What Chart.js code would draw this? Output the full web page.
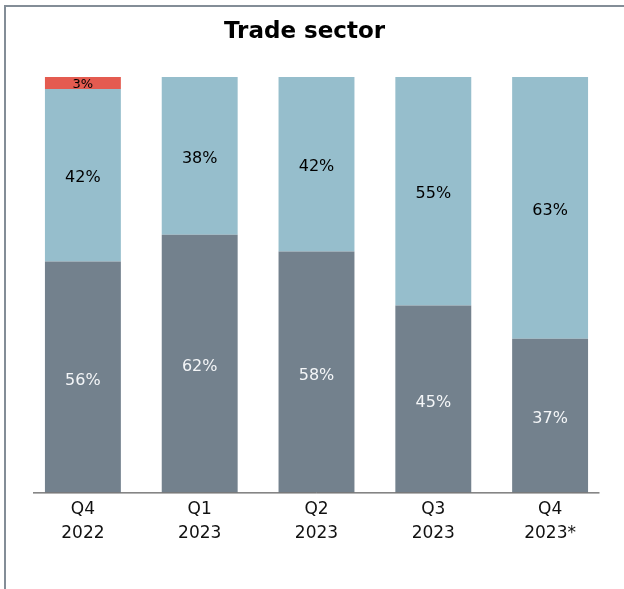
<!DOCTYPE html>
<html>
<head>
<meta charset="utf-8">
<script src="https://cdn.jsdelivr.net/npm/chart.js@4"></script>
<style>
  body { margin: 0; background: #fff; }
  #frame { position: absolute; left: 4px; top: 5px; width: 700px; height: 700px;
           border-left: 2px solid #838d97; border-top: 2px solid #838d97; }
  #wrap { position: absolute; left: 0; top: 0; width: 624px; height: 589px; }
</style>
</head>
<body>
<div id="frame"></div>
<div id="wrap"><canvas id="chart"></canvas></div>
<script>
// category labels (two lines each)
const quarters = [['Q4', '2022'], ['Q1', '2023'], ['Q2', '2023'], ['Q3', '2023'], ['Q4', '2023*']];
// shares, %
const greyShare = [55.6, 62, 58, 45, 37];
const blueShare = [41.5, 38, 42, 55, 63];
const redShare = [2.9, 0, 0, 0, 0];
const chartTitle = 'Trade sector';

// title, % labels in the middle of each segment, and the baseline
const segmentLabels = {
  id: 'segmentLabels',
  afterDatasetsDraw(chart) {
    const ctx = chart.ctx;
    ctx.save();
    ctx.textAlign = 'center';
    ctx.textBaseline = 'middle';
    ctx.fillStyle = '#000';
    ctx.font = 'bold 23px "DejaVu Sans"';
    ctx.fillText(chartTitle, 304.5, 32);
    chart.data.datasets.forEach((ds, i) => {
      const meta = chart.getDatasetMeta(i);
      meta.data.forEach((bar, j) => {
        const v = ds.data[j];
        if (!v) return;
        ctx.fillStyle = ds.labelColor;
        ctx.font = ds.labelFont;
        ctx.fillText(Math.round(v) + '%', bar.x, (bar.y + bar.base) / 2 + ds.labelShift);
      });
    });
    const y = chart.scales.y.getPixelForValue(0);
    ctx.strokeStyle = '#3a3a3a';
    ctx.lineWidth = 1;
    ctx.beginPath();
    ctx.moveTo(chart.chartArea.left + 8.5, y + 0.5);
    ctx.lineTo(chart.chartArea.right - 9, y + 0.5);
    ctx.stroke();
    ctx.restore();
  }
};

new Chart(document.getElementById('chart'), {
  type: 'bar',
  data: {
    labels: quarters,
    datasets: [
      { data: greyShare, backgroundColor: '#73818d', labelColor: '#f4f6f8', labelFont: '16px "DejaVu Sans"', labelShift: 3.5 },
      { data: blueShare, backgroundColor: '#96becc', labelColor: '#000', labelFont: '16px "DejaVu Sans"', labelShift: 3 },
      { data: redShare, backgroundColor: '#e45b50', labelColor: '#000', labelFont: '13px "DejaVu Sans"', labelShift: 1.5 }
    ]
  },
  options: {
    responsive: true,
    maintainAspectRatio: false,
    animation: false,
    layout: { padding: { left: 24.5, right: 15.5, top: 77, bottom: 39 } },
    datasets: { bar: { barPercentage: 0.65, categoryPercentage: 1, borderWidth: 0 } },
    plugins: {
      legend: { display: false },
      tooltip: { enabled: false },
      title: { display: false }
    },
    scales: {
      x: {
        stacked: true,
        grid: { display: false, drawTicks: false },
        border: { display: false },
        ticks: { color: '#111', padding: 5, font: { family: 'DejaVu Sans', size: 17, lineHeight: 1.4 } }
      },
      y: {
        stacked: true,
        display: false,
        min: 0,
        max: 100
      }
    }
  },
  plugins: [segmentLabels]
});
</script>
</body>
</html>
